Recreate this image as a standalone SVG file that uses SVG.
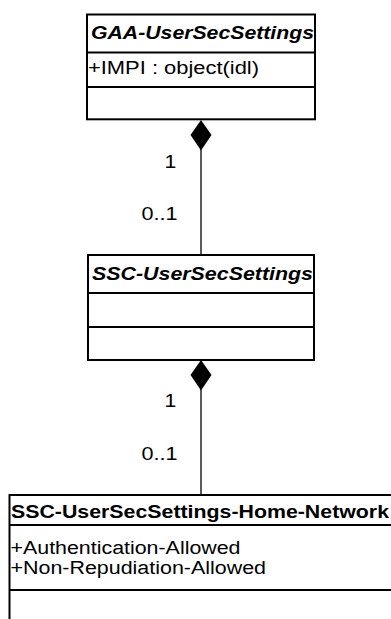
<svg xmlns="http://www.w3.org/2000/svg" width="391" height="619" viewBox="0 0 391 619">
  <style>
    .box { fill: #ffffff; stroke: #000000; stroke-width: 2; }
    .sep { stroke: #000000; stroke-width: 2; fill: none; }
    .edge { stroke: #000000; stroke-width: 1.3; fill: none; }
    .diamond { fill: #000000; stroke: none; }
    text { font-family: "Liberation Sans", Arial, sans-serif; font-size: 18px; fill: #000000; }
    .abstract { font-weight: bold; font-style: italic; }
    .title { font-weight: bold; }
  </style>

  <!-- composition connectors -->
  <g id="connectors">
    <g id="gaa-ssc">
      <line class="edge" x1="201" y1="148" x2="201" y2="255"/>
      <polygon class="diamond" points="201,120 211.5,135 201,150.5 190.5,135"/>
      <text x="164.5" y="168" textLength="11.8" lengthAdjust="spacingAndGlyphs">1</text>
      <text x="141.5" y="220.3" textLength="36" lengthAdjust="spacingAndGlyphs">0..1</text>
    </g>
    <g id="ssc-home">
      <line class="edge" x1="201" y1="388" x2="201" y2="495"/>
      <polygon class="diamond" points="201,360 211.5,375 201,390.5 190.5,375"/>
      <text x="164.5" y="407" textLength="11.8" lengthAdjust="spacingAndGlyphs">1</text>
      <text x="141.5" y="459.8" textLength="36" lengthAdjust="spacingAndGlyphs">0..1</text>
    </g>
  </g>

  <!-- abstract class GAA-UserSecSettings -->
  <g id="GAA-UserSecSettings">
    <rect class="box" x="87" y="14.5" width="228" height="104.8"/>
    <line class="sep" x1="87" y1="52.5" x2="315" y2="52.5"/>
    <line class="sep" x1="87" y1="87" x2="315" y2="87"/>
    <text class="abstract" x="91" y="39" textLength="223" lengthAdjust="spacingAndGlyphs">GAA-UserSecSettings</text>
    <text x="88" y="73.6" textLength="171" lengthAdjust="spacingAndGlyphs">+IMPI : object(idl)</text>
  </g>

  <!-- abstract class SSC-UserSecSettings -->
  <g id="SSC-UserSecSettings">
    <rect class="box" x="88" y="255" width="226" height="105"/>
    <line class="sep" x1="88" y1="293" x2="314" y2="293"/>
    <line class="sep" x1="88" y1="327" x2="314" y2="327"/>
    <text class="abstract" x="92" y="279.6" textLength="221" lengthAdjust="spacingAndGlyphs">SSC-UserSecSettings</text>
  </g>

  <!-- class SSC-UserSecSettings-Home-Network (runs past the right and bottom edges) -->
  <g id="SSC-UserSecSettings-Home-Network">
    <rect class="box" x="9.5" y="495" width="400" height="140"/>
    <line class="sep" x1="9.5" y1="525" x2="400" y2="525"/>
    <line class="sep" x1="9.5" y1="590" x2="400" y2="590"/>
    <text class="title" x="11" y="518" textLength="378" lengthAdjust="spacingAndGlyphs">SSC-UserSecSettings-Home-Network</text>
    <text x="10.5" y="553.5" textLength="230" lengthAdjust="spacingAndGlyphs">+Authentication-Allowed</text>
    <text x="10.5" y="573.8" textLength="255.5" lengthAdjust="spacingAndGlyphs">+Non-Repudiation-Allowed</text>
  </g>
</svg>
